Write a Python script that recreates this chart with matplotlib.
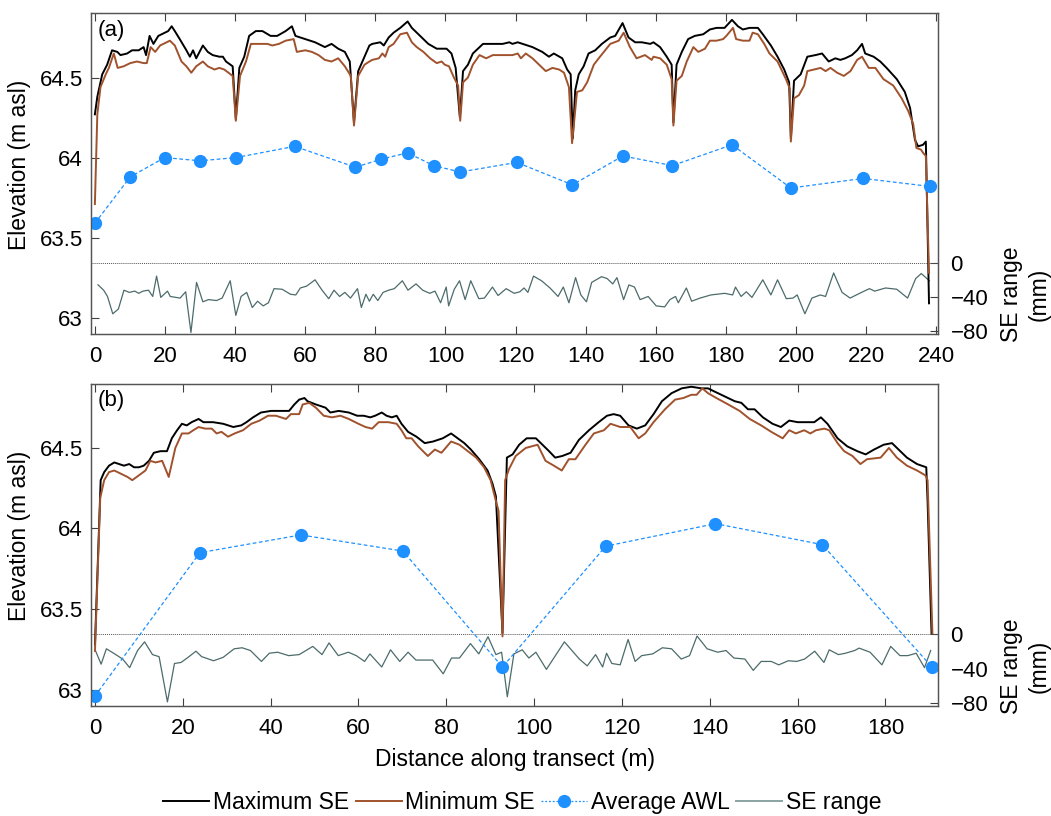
import matplotlib
matplotlib.use("Agg")
import matplotlib.pyplot as plt
from matplotlib.lines import Line2D

plt.rcParams["font.family"] = ["Liberation Sans", "DejaVu Sans"]

BLACK = "#000000"
BROWN = "#a0522d"
BLUE = "#1e90ff"
SLATE = "#4d6b6b"
FS_TICK = 16
FS_LABEL = 16.5

# ---- panel (a) ----
a_max_x = [0.0, 0.7, 2.1, 3.5, 4.9, 6.4, 7.3, 9.2, 10.6, 12.5, 13.9, 14.6, 15.6, 16.7, 18.1, 20.0, 20.9,
           21.9, 22.8, 24.2, 26.1, 27.1, 28.0, 28.9, 30.8, 32.2, 33.6, 35.5, 36.5, 37.4, 39.3, 40.2, 41.2,
           42.6, 44.0, 45.9, 47.8, 50.1, 52.0, 54.4, 56.2, 57.2, 60.0, 62.8, 65.6, 67.5, 69.4, 71.3, 72.7,
           73.9, 75.1, 76.9, 78.3, 79.1, 81.4, 82.4, 83.8, 85.2, 87.1, 89.2, 90.4, 93.2, 95.1, 97.5, 100.3,
           101.7, 102.9, 104.1, 105.0, 106.4, 107.8, 110.7, 113.5, 116.3, 118.2, 119.1, 120.6, 122.0, 124.8,
           127.6, 129.5, 130.9, 133.3, 134.7, 135.7, 136.3, 137.0, 138.0, 139.4, 140.8, 142.7, 144.6, 147.0,
           148.4, 150.5, 152.2, 154.1, 156.0, 158.4, 159.3, 161.2, 163.1, 164.5, 165.0, 165.9, 167.4, 169.2,
           171.1, 173.5, 175.4, 177.3, 179.6, 181.7, 183.4, 184.8, 186.7, 189.1, 190.5, 192.8, 194.7, 196.6,
           198.0, 198.5, 199.4, 201.3, 203.2, 205.5, 207.4, 209.3, 211.2, 212.6, 214.0, 215.9, 217.4, 218.8,
           219.7, 222.1, 224.0, 225.8, 228.7, 231.0, 232.5, 233.9, 234.8, 236.2, 237.0, 237.9]
a_max_y = [64.27, 64.38, 64.52, 64.58, 64.67, 64.66, 64.64, 64.65, 64.67, 64.67, 64.69, 64.64, 64.76, 64.71,
           64.76, 64.78, 64.79, 64.82, 64.79, 64.74, 64.67, 64.63, 64.67, 64.62, 64.70, 64.66, 64.64, 64.63,
           64.63, 64.60, 64.57, 64.24, 64.56, 64.63, 64.76, 64.79, 64.79, 64.76, 64.76, 64.79, 64.82, 64.76,
           64.74, 64.72, 64.69, 64.71, 64.68, 64.66, 64.60, 64.22, 64.54, 64.63, 64.70, 64.71, 64.72, 64.70,
           64.75, 64.78, 64.81, 64.85, 64.81, 64.75, 64.71, 64.68, 64.68, 64.65, 64.56, 64.25, 64.54, 64.58,
           64.65, 64.71, 64.71, 64.71, 64.72, 64.71, 64.72, 64.71, 64.69, 64.66, 64.63, 64.65, 64.62, 64.55,
           64.52, 64.12, 64.42, 64.52, 64.57, 64.65, 64.67, 64.71, 64.75, 64.76, 64.84, 64.75, 64.72, 64.72,
           64.71, 64.72, 64.69, 64.63, 64.58, 64.22, 64.58, 64.66, 64.74, 64.76, 64.77, 64.80, 64.81, 64.81,
           64.86, 64.82, 64.80, 64.81, 64.81, 64.77, 64.70, 64.63, 64.55, 64.47, 64.12, 64.48, 64.52, 64.63,
           64.64, 64.65, 64.60, 64.62, 64.61, 64.62, 64.64, 64.67, 64.71, 64.65, 64.63, 64.60, 64.56, 64.49,
           64.41, 64.31, 64.11, 64.07, 64.08, 64.10, 63.09]

a_min_x = [0.0, 0.7, 1.6, 3.1, 4.0, 5.4, 6.5, 8.2, 10.1, 12.0, 13.9, 14.8, 15.9, 17.2, 18.6, 20.5, 21.4,
           22.8, 24.7, 26.1, 27.5, 28.9, 30.8, 32.2, 34.1, 35.5, 36.9, 39.3, 40.2, 41.4, 43.1, 44.5, 46.8,
           49.2, 50.6, 52.5, 54.4, 56.7, 57.6, 60.0, 61.9, 63.8, 65.6, 67.5, 69.4, 71.3, 73.0, 73.9, 75.1,
           76.9, 78.3, 79.1, 81.0, 82.0, 82.8, 83.8, 85.2, 87.1, 89.0, 90.4, 91.8, 93.7, 95.6, 97.5, 98.9,
           99.8, 101.0, 102.4, 103.6, 104.2, 105.0, 106.4, 107.8, 109.7, 111.6, 113.5, 116.3, 119.1, 120.6,
           121.5, 122.9, 124.8, 126.7, 128.6, 130.5, 132.4, 133.8, 135.2, 136.1, 137.5, 139.0, 140.4, 142.3,
           143.7, 147.0, 149.4, 150.8, 152.6, 154.5, 156.9, 158.8, 159.3, 161.2, 163.1, 164.5, 165.0, 165.9,
           167.4, 168.8, 170.7, 172.1, 174.0, 175.4, 177.3, 179.2, 180.1, 182.0, 182.9, 184.8, 186.7, 187.6,
           189.1, 190.9, 192.4, 194.7, 197.1, 198.2, 198.5, 199.4, 200.8, 202.3, 203.2, 205.1, 207.0, 208.4,
           209.8, 211.7, 213.6, 215.5, 217.4, 218.8, 220.7, 222.6, 224.9, 227.7, 230.1, 232.0, 233.4, 234.3,
           235.6, 236.2, 237.0, 237.9]
a_min_y = [63.71, 64.27, 64.44, 64.52, 64.56, 64.65, 64.56, 64.57, 64.59, 64.60, 64.59, 64.59, 64.69, 64.66,
           64.70, 64.72, 64.73, 64.70, 64.60, 64.57, 64.53, 64.57, 64.60, 64.57, 64.55, 64.56, 64.55, 64.51,
           64.23, 64.51, 64.60, 64.71, 64.71, 64.71, 64.70, 64.71, 64.73, 64.74, 64.66, 64.67, 64.66, 64.64,
           64.61, 64.60, 64.62, 64.57, 64.51, 64.20, 64.51, 64.58, 64.60, 64.61, 64.62, 64.65, 64.63, 64.69,
           64.71, 64.77, 64.78, 64.72, 64.69, 64.66, 64.62, 64.59, 64.60, 64.58, 64.57, 64.50, 64.45, 64.23,
           64.47, 64.50, 64.58, 64.64, 64.62, 64.64, 64.64, 64.64, 64.65, 64.62, 64.65, 64.62, 64.58, 64.54,
           64.56, 64.55, 64.53, 64.44, 64.09, 64.41, 64.42, 64.47, 64.58, 64.62, 64.71, 64.73, 64.78, 64.69,
           64.62, 64.64, 64.61, 64.63, 64.62, 64.58, 64.49, 64.20, 64.48, 64.51, 64.60, 64.69, 64.66, 64.68,
           64.73, 64.73, 64.74, 64.76, 64.81, 64.74, 64.73, 64.73, 64.78, 64.77, 64.71, 64.65, 64.60, 64.49,
           64.43, 64.10, 64.37, 64.39, 64.45, 64.54, 64.55, 64.56, 64.54, 64.56, 64.53, 64.51, 64.54, 64.61,
           64.63, 64.56, 64.56, 64.49, 64.45, 64.37, 64.29, 64.21, 64.06, 64.05, 64.03, 64.01, 63.28]

a_awl_x = [0, 10.1, 19.9, 30.0, 40.2, 57.0, 74.3, 81.7, 89.2, 96.6, 104.2, 120.3, 136.2, 150.6, 164.7,
           181.7, 198.5, 219.1, 238.1]
a_awl_y = [63.59, 63.88, 64.00, 63.98, 64.00, 64.07, 63.94, 63.99, 64.03, 63.95, 63.91, 63.97, 63.83, 64.01,
           63.95, 64.08, 63.81, 63.87, 63.82]

a_se_x = [0.9, 2.5, 3.6, 5.1, 6.7, 8.3, 9.8, 11.4, 12.5, 13.7, 15.3, 16.5, 17.6, 18.8, 20.7, 21.5, 23.1, 24.3,
          25.9, 27.4, 29.0, 30.8, 32.4, 34.7, 36.3, 38.6, 40.2, 41.7, 43.3, 44.9, 46.4, 48.0, 49.5, 51.1, 53.4,
          55.8, 57.3, 58.6, 60.4, 62.8, 64.8, 66.7, 68.2, 69.8, 71.3, 72.9, 74.9, 76.0, 77.3, 78.3, 79.4, 80.7,
          82.2, 83.8, 85.4, 87.7, 89.3, 91.6, 93.5, 95.5, 97.0, 98.6, 100.2, 100.9, 102.5, 104.0, 105.6, 107.2,
          109.5, 111.1, 113.4, 115.0, 117.3, 119.6, 121.2, 122.4, 123.5, 125.1, 127.4, 129.8, 132.1, 133.6,
          135.2, 137.1, 138.6, 140.2, 141.7, 144.5, 146.1, 147.7, 148.9, 150.8, 152.3, 153.9, 155.5, 157.8,
          160.1, 162.5, 164.0, 165.6, 166.4, 168.7, 170.2, 172.6, 175.7, 179.6, 181.9, 182.7, 184.3, 185.8,
          187.4, 190.5, 192.8, 194.7, 197.2, 199.1, 200.3, 202.5, 204.5, 206.9, 208.4, 210.7, 213.1, 215.4,
          218.1, 220.9, 222.4, 225.5, 228.7, 231.8, 234.1, 235.7, 238.0]
a_se_mm = [-25.9, -32.2, -39.6, -60.0, -54.4, -32.2, -34.8, -33.3, -35.9, -33.3, -32.2, -39.6, -15.6, -40.7,
           -33.3, -39.6, -40.7, -41.5, -34.1, -82.0, -23.0, -45.9, -43.3, -44.4, -41.5, -21.1, -61.9, -39.6,
           -34.8, -52.6, -45.2, -50.7, -47.0, -30.4, -31.1, -37.0, -37.8, -29.6, -27.4, -20.0, -32.2, -42.2,
           -32.2, -39.6, -34.8, -41.5, -30.4, -52.6, -37.0, -45.2, -37.0, -44.4, -34.8, -32.2, -30.4, -21.1,
           -32.2, -24.8, -32.2, -35.9, -33.3, -47.0, -28.5, -50.7, -31.1, -21.1, -43.3, -21.1, -42.2, -41.5,
           -28.5, -38.5, -30.4, -35.9, -34.1, -29.6, -34.8, -15.6, -21.1, -29.6, -39.6, -28.5, -47.0, -17.4,
           -37.8, -45.9, -23.0, -16.3, -18.5, -24.8, -17.4, -43.3, -26.0, -28.5, -43.3, -39.6, -50.7, -51.9,
           -43.3, -39.6, -47.0, -29.6, -45.2, -41.5, -37.8, -35.9, -37.8, -28.5, -39.6, -34.1, -40.7, -20.0,
           -37.8, -20.0, -42.2, -41.5, -37.8, -60.0, -41.5, -37.8, -39.6, -11.9, -34.8, -41.5, -35.9, -30.4,
           -33.3, -29.6, -31.1, -41.5, -18.5, -12.6, -21.1]

# ---- panel (b) ----
b_max_x = [0.0, 1.3, 2.1, 3.2, 4.4, 5.5, 6.6, 7.8, 8.9, 10.0, 11.1, 12.3, 13.4, 14.9, 16.4, 17.5, 18.7, 19.8,
           20.9, 22.0, 23.6, 24.7, 26.9, 29.2, 31.5, 33.3, 34.5, 36.0, 37.8, 40.1, 42.4, 44.2, 45.4, 46.5,
           47.7, 48.4, 50.3, 51.4, 52.5, 53.6, 55.5, 57.8, 59.7, 61.2, 62.7, 63.8, 65.3, 66.4, 67.6, 68.7,
           69.8, 71.3, 73.2, 75.1, 77.0, 79.2, 81.1, 82.6, 84.1, 85.6, 87.5, 89.4, 90.5, 91.3, 92.8, 93.8,
           95.1, 96.6, 98.3, 100.4, 101.9, 103.4, 104.8, 106.4, 108.3, 110.2, 112.5, 114.7, 116.6, 118.1,
           119.6, 121.5, 123.4, 125.3, 127.2, 129.1, 131.3, 133.6, 135.8, 138.1, 139.6, 141.1, 143.4, 145.7,
           147.2, 148.7, 150.2, 152.1, 154.3, 156.2, 158.1, 160.0, 162.3, 163.8, 165.3, 166.8, 169.1, 171.3,
           173.6, 175.5, 177.4, 179.6, 181.5, 183.0, 184.9, 187.2, 189.3, 189.6, 190.5]
b_max_y = [63.28, 64.30, 64.35, 64.39, 64.41, 64.40, 64.39, 64.40, 64.38, 64.38, 64.39, 64.42, 64.47, 64.48,
           64.48, 64.56, 64.61, 64.65, 64.64, 64.66, 64.68, 64.66, 64.66, 64.65, 64.63, 64.64, 64.66, 64.69,
           64.72, 64.73, 64.73, 64.73, 64.77, 64.80, 64.81, 64.79, 64.77, 64.76, 64.75, 64.72, 64.73, 64.72,
           64.70, 64.70, 64.69, 64.70, 64.72, 64.70, 64.69, 64.70, 64.65, 64.60, 64.57, 64.53, 64.54, 64.56,
           64.59, 64.56, 64.53, 64.49, 64.43, 64.36, 64.28, 64.20, 63.35, 64.44, 64.46, 64.52, 64.56, 64.56,
           64.52, 64.48, 64.44, 64.45, 64.47, 64.55, 64.61, 64.66, 64.70, 64.71, 64.70, 64.64, 64.62, 64.64,
           64.71, 64.79, 64.84, 64.87, 64.88, 64.87, 64.87, 64.85, 64.82, 64.79, 64.78, 64.74, 64.74, 64.69,
           64.65, 64.63, 64.67, 64.66, 64.66, 64.66, 64.69, 64.65, 64.56, 64.51, 64.48, 64.46, 64.49, 64.52,
           64.53, 64.49, 64.44, 64.40, 64.38, 64.17, 63.35]

b_min_x = [0.0, 1.2, 2.1, 3.2, 4.4, 5.9, 7.4, 8.5, 10.0, 11.5, 12.6, 13.8, 15.3, 16.8, 18.3, 19.8, 21.3, 22.4,
           23.6, 25.1, 26.6, 27.7, 28.8, 30.3, 31.8, 33.7, 35.6, 37.5, 39.4, 41.2, 43.5, 44.6, 46.5, 47.3,
           48.8, 50.3, 52.1, 54.0, 55.9, 57.8, 60.0, 61.6, 63.1, 64.6, 66.8, 68.7, 69.8, 70.9, 72.1, 73.6,
           75.8, 77.4, 78.9, 81.1, 83.0, 84.9, 86.8, 88.6, 90.1, 91.3, 91.9, 92.8, 93.4, 94.3, 95.8, 98.1,
           100.8, 102.6, 104.5, 106.3, 107.9, 109.4, 111.7, 113.6, 115.9, 117.4, 119.6, 121.9, 123.8, 125.3,
           127.2, 129.8, 132.1, 134.0, 135.8, 137.0, 138.3, 139.6, 141.5, 144.2, 146.8, 149.1, 151.7, 154.0,
           156.6, 158.1, 159.6, 161.5, 162.9, 164.2, 166.1, 167.2, 169.1, 170.6, 172.5, 174.3, 175.8, 178.9,
           180.8, 182.6, 184.9, 187.2, 189.1, 189.6, 190.7]
b_min_y = [63.24, 64.19, 64.30, 64.35, 64.36, 64.34, 64.32, 64.30, 64.33, 64.36, 64.42, 64.41, 64.42, 64.32,
           64.50, 64.59, 64.59, 64.61, 64.63, 64.62, 64.62, 64.59, 64.60, 64.57, 64.59, 64.61, 64.65, 64.67,
           64.70, 64.70, 64.68, 64.71, 64.71, 64.77, 64.78, 64.75, 64.70, 64.69, 64.70, 64.68, 64.65, 64.63,
           64.62, 64.66, 64.66, 64.65, 64.61, 64.56, 64.56, 64.51, 64.45, 64.49, 64.47, 64.54, 64.52, 64.48,
           64.44, 64.38, 64.30, 64.17, 64.11, 63.33, 64.30, 64.37, 64.45, 64.50, 64.52, 64.42, 64.39, 64.36,
           64.43, 64.43, 64.52, 64.59, 64.61, 64.65, 64.63, 64.63, 64.56, 64.59, 64.66, 64.74, 64.80, 64.81,
           64.83, 64.83, 64.87, 64.84, 64.81, 64.77, 64.73, 64.68, 64.64, 64.60, 64.56, 64.61, 64.59, 64.61,
           64.59, 64.61, 64.62, 64.61, 64.53, 64.48, 64.45, 64.40, 64.43, 64.44, 64.50, 64.44, 64.39, 64.36,
           64.33, 64.30, 63.35]

b_awl_x = [0, 23.9, 46.9, 70.1, 92.8, 116.3, 141.3, 165.6, 190.6]
b_awl_y = [62.96, 63.85, 63.96, 63.86, 63.14, 63.89, 64.03, 63.90, 63.14]

b_se_x = [0.1, 1.4, 2.6, 4.5, 6.3, 7.9, 9.7, 11.3, 13.1, 14.6, 16.5, 18.1, 19.6, 21.2, 23.0, 24.3, 27.0, 29.2,
          31.7, 33.5, 35.4, 37.9, 39.7, 41.6, 44.1, 46.5, 49.6, 51.7, 53.3, 55.4, 57.7, 59.5, 61.4, 62.6, 65.3,
          67.3, 69.4, 71.3, 73.1, 76.9, 79.3, 81.2, 83.0, 85.5, 87.4, 89.5, 91.3, 92.6, 93.9, 95.4, 97.3, 98.8,
          100.4, 102.8, 106.9, 110.3, 112.1, 114.0, 115.6, 116.5, 117.7, 119.6, 121.4, 123.0, 124.5, 127.0,
          129.2, 131.3, 133.5, 135.4, 137.1, 139.4, 141.8, 143.7, 145.5, 148.0, 149.9, 151.7, 154.0, 155.7,
          157.9, 159.8, 161.6, 163.9, 166.0, 167.2, 169.3, 170.9, 173.0, 174.0, 176.5, 179.2, 181.2, 183.3,
          185.1, 187.0, 188.9, 190.3]
b_se_mm = [-18.9, -34.9, -16.9, -22.9, -28.9, -39.0, -18.9, -8.8, -23.7, -26.1, -79.1, -34.1, -32.9, -26.9,
           -19.7, -26.1, -30.9, -26.9, -16.9, -15.7, -18.9, -31.7, -22.1, -20.9, -24.9, -23.7, -14.1, -23.7,
           -10.0, -24.9, -20.9, -24.9, -31.7, -22.9, -38.2, -18.1, -31.7, -20.9, -30.1, -30.1, -46.2, -27.7,
           -27.7, -10.8, -22.9, -2.8, -23.7, -20.9, -73.1, -22.9, -18.1, -27.7, -20.9, -41.0, -8.8, -28.9,
           -36.9, -23.7, -38.2, -22.1, -34.1, -35.7, -6.0, -31.7, -24.9, -22.9, -15.7, -16.9, -28.9, -24.9,
           -2.0, -16.9, -20.9, -18.9, -27.7, -28.9, -42.2, -31.7, -31.7, -35.7, -30.9, -31.7, -28.9, -19.7,
           -32.9, -18.1, -23.7, -22.1, -18.9, -16.1, -20.9, -35.7, -14.1, -24.9, -24.9, -22.1, -39.0, -18.9]

x_ticks_a = list(range(0, 241, 20))
x_ticks_b = list(range(0, 181, 20))
elev_ticks = [63, 63.5, 64, 64.5]
elev_ticklabels = ["63", "63.5", "64", "64.5"]
se_ticks = [-80, -40, 0]


def draw_panel(rect, tag, xlim, xticks, mx, my, nx, ny, ax_, ay_, sx, sy, xlabel=None):
    ax = fig.add_axes(rect)
    ax2 = ax.twinx()
    ax.set_zorder(ax2.get_zorder() + 1)
    ax.patch.set_visible(False)

    ax2.axhline(0, color="#555555", lw=0.7, ls=(0, (1, 1)))
    ax2.plot(sx, sy, color=SLATE, lw=0.9)
    ax.plot(mx, my, color=BLACK, lw=1.4)
    ax.plot(nx, ny, color=BROWN, lw=1.4)
    ax.plot(ax_, ay_, color=BLUE, lw=0.9, ls=(0, (3, 2)), marker="o", ms=8.5, mec=BLUE, mfc=BLUE)

    ax.set_xlim(*xlim)
    ax.set_ylim(62.9, 64.9)
    ax2.set_ylim(-83.5, 293.7)
    ax.set_xticks(xticks)
    ax.set_yticks(elev_ticks)
    ax.set_yticklabels(elev_ticklabels)
    ax2.set_yticks(se_ticks)

    ax.tick_params(axis="x", direction="in", length=6, top=True, labelsize=FS_TICK, pad=9, color="#404040")
    ax.tick_params(axis="y", direction="in", length=6, labelsize=FS_TICK, pad=6, color="#404040")
    ax2.tick_params(axis="y", direction="in", length=6, labelsize=FS_TICK, pad=9, color="#404040")
    for a in (ax, ax2):
        for sp in a.spines.values():
            sp.set_color("#555555")
            sp.set_linewidth(0.9)

    ax.set_ylabel("Elevation (m asl)", fontsize=FS_LABEL)
    ax.yaxis.set_label_coords(-0.071, 0.527)
    ax.text(1.103, 0.122, "SE range\n(mm)", transform=ax.transAxes, rotation=90,
            ha="center", va="center", fontsize=FS_LABEL, multialignment="center", linespacing=1.3)
    ax.text(0.008, 0.948, tag, transform=ax.transAxes, ha="left", va="center", fontsize=FS_TICK)
    if xlabel:
        ax.set_xlabel(xlabel, fontsize=FS_LABEL)
        ax.xaxis.set_label_coords(0.5, -0.13)
    return ax


fig = plt.figure(figsize=(10.51, 8.16), dpi=100)

draw_panel([0.0866, 0.591, 0.806, 0.3925], "(a)", (-1.1, 240.5), x_ticks_a,
           a_max_x, a_max_y, a_min_x, a_min_y, a_awl_x, a_awl_y, a_se_x, a_se_mm)
draw_panel([0.0866, 0.1352, 0.806, 0.3948], "(b)", (-0.9, 192.0), x_ticks_b,
           b_max_x, b_max_y, b_min_x, b_min_y, b_awl_x, b_awl_y, b_se_x, b_se_mm,
           xlabel="Distance along transect (m)")

handles = [
    Line2D([], [], color=BLACK, lw=1.4),
    Line2D([], [], color=BROWN, lw=1.4),
    Line2D([], [], color=BLUE, lw=0.9, ls=(0, (1.5, 1.5)), marker="o", ms=8.5),
    Line2D([], [], color="#8aa3a3", lw=1.4),
]
labels = ["Maximum SE", "Minimum SE", "Average AWL", "SE range"]
fig.legend(handles, labels, loc="center", bbox_to_anchor=(0.497, 0.017), ncol=4, frameon=False,
           handlelength=2.0, handletextpad=0.15, columnspacing=0.3, fontsize=FS_LABEL)

fig.savefig("out.png", dpi=100)
